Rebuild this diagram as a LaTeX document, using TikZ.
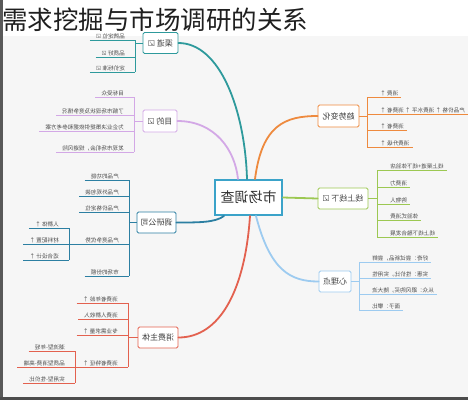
\documentclass[tikz,border=0pt]{standalone}
\usepackage{fontspec}
\usepackage{graphicx}
\newfontfamily\cjk{Noto Sans CJK SC}
\newfontfamily\djv{DejaVu Sans}
\newcommand\M[1]{\reflectbox{#1}}
\newcommand\ck{{\djv\char"2611}}
\definecolor{cTeal}{HTML}{2E9A9C}
\definecolor{cPur}{HTML}{D3A8E6}
\definecolor{cOra}{HTML}{EE8A3E}
\definecolor{cGrn}{HTML}{9CC852}
\definecolor{cBlu}{HTML}{9DCBF0}
\definecolor{cRed}{HTML}{E3614F}
\definecolor{cDk}{HTML}{2C7FA2}
\definecolor{cCtr}{HTML}{3BA3C9}
\definecolor{bgc}{HTML}{F6F6F6}
\tikzset{
  topic/.style={draw=#1, fill=white, rounded corners=1.5pt, line width=0.8pt,
    font=\cjk\fontsize{8}{9}\selectfont, text=black!75, inner sep=2pt},
  leafL/.style={anchor=south east, inner xsep=0pt, inner ysep=1.2pt,
    font=\cjk\fontsize{5.6}{6}\selectfont, text=black!70,
    execute at begin node=\hspace*{6pt}, execute at end node=\hspace*{10pt}},
  leafR/.style={anchor=south west, inner xsep=0pt, inner ysep=1.2pt,
    font=\cjk\fontsize{5.6}{6}\selectfont, text=black!70,
    execute at begin node=\hspace*{13pt}, execute at end node=\hspace*{3pt}},
  br/.style={draw=#1, line width=0.7pt},
  main/.style={draw=#1, line width=1.8pt, line cap=round},
}
\begin{document}
\begin{tikzpicture}[x=1pt,y=-1pt]
\useasboundingbox (0,0) rectangle (468,400);
\fill[white] (0,0) rectangle (468,36);
\fill[bgc] (0,36) rectangle (468,400);
\fill[black!65] (0,0) rectangle (3,400);
\fill[black!70] (0,397) rectangle (468,400);

% center
\node[draw=cCtr, fill=white, line width=2pt, minimum width=67pt, minimum height=35pt,
  font=\cjk\fontsize{14}{15}\selectfont, text=black!80] (C) at (248.5,197.5) {\M{市场调查}};

% topics
\node[topic=cTeal, minimum width=35pt, minimum height=21pt] (T) at (160.5,43) {\M{渠道 \ck}};
\node[topic=cPur, minimum width=34pt, minimum height=22pt] (P) at (160,121) {\M{目的 \ck}};
\node[topic=cDk, minimum width=39pt, minimum height=21pt] (D) at (156.5,222.5) {\M{调研公司}};
\node[topic=cRed, minimum width=40pt, minimum height=21pt] (R) at (158,337.5) {\M{消费主体}};
\node[topic=cOra, minimum width=41pt, minimum height=22pt] (O) at (338.5,116) {\M{趋势变化}};
\node[topic=cGrn, minimum width=50pt, minimum height=21pt] (G) at (343,198.5) {\M{线上线下 \ck}};
\node[topic=cBlu, minimum width=32pt, minimum height=21pt] (B) at (335,281.5) {\M{心理点}};

% main connectors
\draw[main=cTeal] ([xshift=-1.5pt]C.north) .. controls (245,110) and (220,43) .. (T.east);
\draw[main=cPur] ([xshift=-10.5pt]C.north) .. controls (235,150) and (215,121) .. (P.east);
\draw[main=cOra] ([xshift=6.5pt]C.north) .. controls (262,125) and (285,116) .. (O.west);
\draw[main=cGrn] (C.east) -- (G.west);
\draw[main=cBlu] ([xshift=7.5pt]C.south) .. controls (270,270) and (290,281.5) .. (B.west);
\draw[main=cRed] ([xshift=1.5pt]C.south) .. controls (245,290) and (220,337.5) .. (R.east);
\draw[main=cDk] ([xshift=10pt]C.south west) .. controls (215,222.5) and (200,222.5) .. (D.east);

% teal leaves
\node[leafL] (t1) at (135,40) {\M{品牌定位 \ck}};
\node[leafL] (t2) at (135,57) {\M{品质好 \ck}};
\node[leafL] (t3) at (135,72) {\M{定价标准 \ck}};
\foreach \n in {t1,t2,t3} \draw[br=cTeal] (\n.south west) -- (\n.south east);
\draw[br=cTeal] (t1.south east) -- (t3.south east);
\draw[br=cTeal] (T.west) -- (T.west -| t1.south east);

% purple leaves
\node[leafL] (p1) at (134,97) {\M{目标受众}};
\node[leafL] (p2) at (134,115) {\M{了解市场现状及竞争情况}};
\node[leafL] (p3) at (134,131) {\M{为企业决策提供依据和参考方案}};
\node[leafL] (p4) at (134,152) {\M{发现市场机会，规避风险}};
\foreach \n in {p1,p2,p3,p4} \draw[br=cPur] (\n.south west) -- (\n.south east);
\draw[br=cPur] (p1.south east) -- (p4.south east);
\draw[br=cPur] (P.west) -- (P.west -| p1.south east);

% dark leaves
\node[leafL] (d1) at (129,180) {\M{产品的功能}};
\node[leafL] (d2) at (129,196) {\M{产品外观包装}};
\node[leafL] (d3) at (129,212) {\M{产品价格定位}};
\node[leafL] (d4) at (129,244) {\M{产品竞争优势}};
\node[leafL] (d5) at (129,276) {\M{市场的份额}};
\foreach \n in {d1,d2,d3,d4,d5} \draw[br=cDk] (\n.south west) -- (\n.south east);
\draw[br=cDk] (d1.south east) -- (d5.south east);
\draw[br=cDk] (D.west) -- (D.west -| d1.south east);
\node[leafL] (s1) at (69,228) {\M{人群体 ↑}};
\node[leafL] (s2) at (69,244) {\M{材料配置 ↑}};
\node[leafL] (s3) at (69,260) {\M{适合设计 ↑}};
\foreach \n in {s1,s2,s3} \draw[br=cDk] (\n.south west) -- (\n.south east);
\draw[br=cDk] (s1.south east) -- (s3.south east);
\draw[br=cDk] (s2.south east) -- (d4.south west);

% red leaves
\node[leafL] (r1) at (128,303) {\M{消费者年龄 ↑}};
\node[leafL] (r2) at (128,319) {\M{消费人群收入}};
\node[leafL] (r3) at (128,335) {\M{专业需求量 ↑}};
\node[leafL] (r4) at (128,367) {\M{消费者特征 ↑}};
\foreach \n in {r1,r2,r3,r4} \draw[br=cRed] (\n.south west) -- (\n.south east);
\draw[br=cRed] (r1.south east) -- (r4.south east);
\draw[br=cRed] (R.west) -- (R.west -| r1.south east);
\node[leafL] (q1) at (75,351) {\M{潮流型-年轻}};
\node[leafL] (q2) at (75,367) {\M{品质型消费-高端}};
\node[leafL] (q3) at (75,383) {\M{实用型-性价比}};
\foreach \n in {q1,q2,q3} \draw[br=cRed] (\n.south west) -- (\n.south east);
\draw[br=cRed] (q1.south east) -- (q3.south east);
\draw[br=cRed] (q2.south east) -- (r4.south west);

% orange leaves
\node[leafR] (o1) at (367,97) {\M{消费 ↑}};
\node[leafR] (o2) at (367,114) {\M{产品价格 ↑ 消费水平 ↑ 消费者 ↑}};
\node[leafR] (o3) at (367,130) {\M{消费者 ↑}};
\node[leafR] (o4) at (367,147) {\M{消费升级 ↑}};
\foreach \n in {o1,o2,o3,o4} \draw[br=cOra] (\n.south west) -- (\n.south east);
\draw[br=cOra] (o1.south west) -- (o4.south west);
\draw[br=cOra] (O.east) -- (O.east -| o1.south west);

% green leaves
\node[leafR] (g1) at (377,170) {\M{线上渠道+线下体验店}};
\node[leafR] (g2) at (377,187) {\M{消费力}};
\node[leafR] (g3) at (377,204) {\M{购物人}};
\node[leafR] (g4) at (377,220) {\M{体验式消费}};
\node[leafR] (g5) at (377,237) {\M{线上线下融合发展}};
\foreach \n in {g1,g2,g3,g4,g5} \draw[br=cGrn] (\n.south west) -- (\n.south east);
\draw[br=cGrn] (g1.south west) -- (g5.south west);
\draw[br=cGrn] (G.east) -- (G.east -| g1.south west);

% blue leaves
\node[leafR] (b1) at (359,262) {\M{好奇：尝试新品，尝鲜}};
\node[leafR] (b2) at (359,278) {\M{实惠：性价比，实用性}};
\node[leafR] (b3) at (359,294) {\M{从众：跟风购买，随大流}};
\node[leafR] (b4) at (359,310) {\M{面子：攀比}};
\foreach \n in {b1,b2,b3,b4} \draw[br=cBlu] (\n.south west) -- (\n.south east);
\draw[br=cBlu] (b1.south west) -- (b4.south west);
\draw[br=cBlu] (B.east) -- (B.east -| b1.south west);

% title
\node[anchor=west, inner sep=0pt, font=\cjk\fontsize{25.5}{26}\selectfont, text=black!88] (title) at (2,20) {需求挖掘与市场调研的关系};
\end{tikzpicture}
\end{document}
